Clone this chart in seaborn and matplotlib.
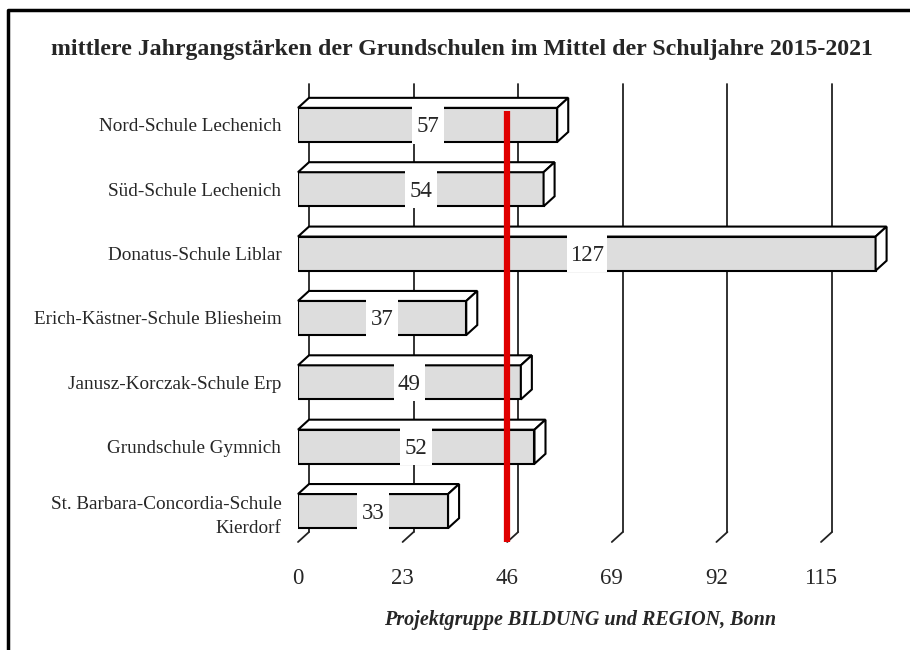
import numpy as np
import pandas as pd
import seaborn as sns
import matplotlib.pyplot as plt
from matplotlib.patches import Polygon, Rectangle
from matplotlib.transforms import IdentityTransform, offset_copy
from matplotlib.lines import Line2D

# Data
schools = [
    "Nord-Schule Lechenich",
    "Süd-Schule Lechenich",
    "Donatus-Schule Liblar",
    "Erich-Kästner-Schule Bliesheim",
    "Janusz-Korczak-Schule Erp",
    "Grundschule Gymnich",
    "St. Barbara-Concordia-Schule\nKierdorf",
]
values = [57, 54, 127, 37, 49, 52, 33]
x_ticks = [0, 23, 46, 69, 92, 115]
reference_value = 46

title = "mittlere Jahrgangstärken der Grundschulen im Mittel der Schuljahre 2015-2021"
source = "Projektgruppe BILDUNG und REGION, Bonn"

df = pd.DataFrame({"Schule": schools, "Wert": values})

sns.set_style("white")
plt.rcParams["font.family"] = ["Liberation Serif", "DejaVu Serif"]

DPI = 100
fig = plt.figure(figsize=(9.1, 6.5), dpi=DPI)
# front plane of the plot area
ax = fig.add_axes([298 / 910, 108 / 650, 600 / 910, 448 / 650])

sns.barplot(data=df, x="Wert", y="Schule", orient="h", color="#dddddd",
            saturation=1, edgecolor="black", linewidth=1.5, width=0.53,
            ax=ax, zorder=2)

ax.set_xlim(0, 600 / 4.548)
ax.set_ylim(6.48, -0.48)
for s in ax.spines.values():
    s.set_visible(False)
ax.set_xlabel("")
ax.set_ylabel("")
ax.set_xticks(x_ticks)
ax.set_xticklabels([str(t) for t in x_ticks], fontsize=16.5)
ax.tick_params(axis="x", length=0, pad=19)
ax.tick_params(axis="y", length=0, pad=12, labelsize=13.8)
for lab in ax.get_yticklabels():
    lab.set_horizontalalignment("right")
    lab.set_multialignment("right")
    lab.set_linespacing(1.55)

# depth of the pseudo-3D effect, in pixels
dx, dy = 11, 10
back = offset_copy(ax.transData, fig=fig, x=dx, y=dy, units="dots")
y_floor, y_top = 6.48, -0.48
for t in x_ticks:
    ax.add_line(Line2D([t, t], [y_floor, y_top], transform=back,
                       color="#222222", lw=1.3, zorder=0, clip_on=False))
    p0 = ax.transData.transform((t, y_floor))
    ax.add_line(Line2D([p0[0], p0[0] + dx], [p0[1], p0[1] + dy],
                       transform=IdentityTransform(), color="#222222",
                       lw=1.3, zorder=0, clip_on=False))

# top and side faces of the bars
fig.canvas.draw()
for bar in ax.patches[:len(values)]:
    x0, y0 = bar.get_x(), bar.get_y()
    w, h = bar.get_width(), bar.get_height()
    (ax0, ay0), (ax1, ay1) = ax.transData.transform([(x0, y0), (x0 + w, y0 + h)])
    top_px = max(ay0, ay1)
    bot_px = min(ay0, ay1)
    right_px = ax1
    left_px = ax0
    top_face = [(left_px, top_px), (right_px, top_px),
                (right_px + dx, top_px + dy), (left_px + dx, top_px + dy)]
    side_face = [(right_px, top_px), (right_px, bot_px),
                 (right_px + dx, bot_px + dy), (right_px + dx, top_px + dy)]
    for face in (top_face, side_face):
        ax.add_patch(Polygon(face, closed=True, facecolor="white",
                             edgecolor="black", lw=1.5, clip_on=False,
                             transform=IdentityTransform(), zorder=2))

# value labels on white boxes
for i, v in enumerate(values):
    bw = 8.8 if v >= 100 else 7.0
    ax.add_patch(Rectangle((v / 2 - bw / 2, i - 0.29), bw, 0.58,
                           facecolor="white", edgecolor="none", zorder=3))
    ax.text(v / 2, i + 0.03, str(v), ha="center", va="center", fontsize=16.5,
            zorder=4)

# reference line
ax.plot([reference_value, reference_value], [y_floor, -0.22], color="#e00000",
        lw=4.5, zorder=5, solid_capstyle="butt")

fig.text(0.5 * (50 + 873) / 910, 1 - 50 / 650, title, ha="center", va="center",
         fontsize=17.2, fontweight="bold")
fig.text(580 / 910, 1 - 620 / 650, source, ha="center", va="center",
         fontsize=14.5, fontweight="bold", style="italic")

# partial frame (left and top) like the reference
fig.add_artist(Line2D([8 / 910, 8 / 910, 1], [0, 1 - 10 / 650, 1 - 10 / 650],
                      transform=fig.transFigure, color="black", lw=2.5))

fig.savefig("out.png", dpi=DPI)
